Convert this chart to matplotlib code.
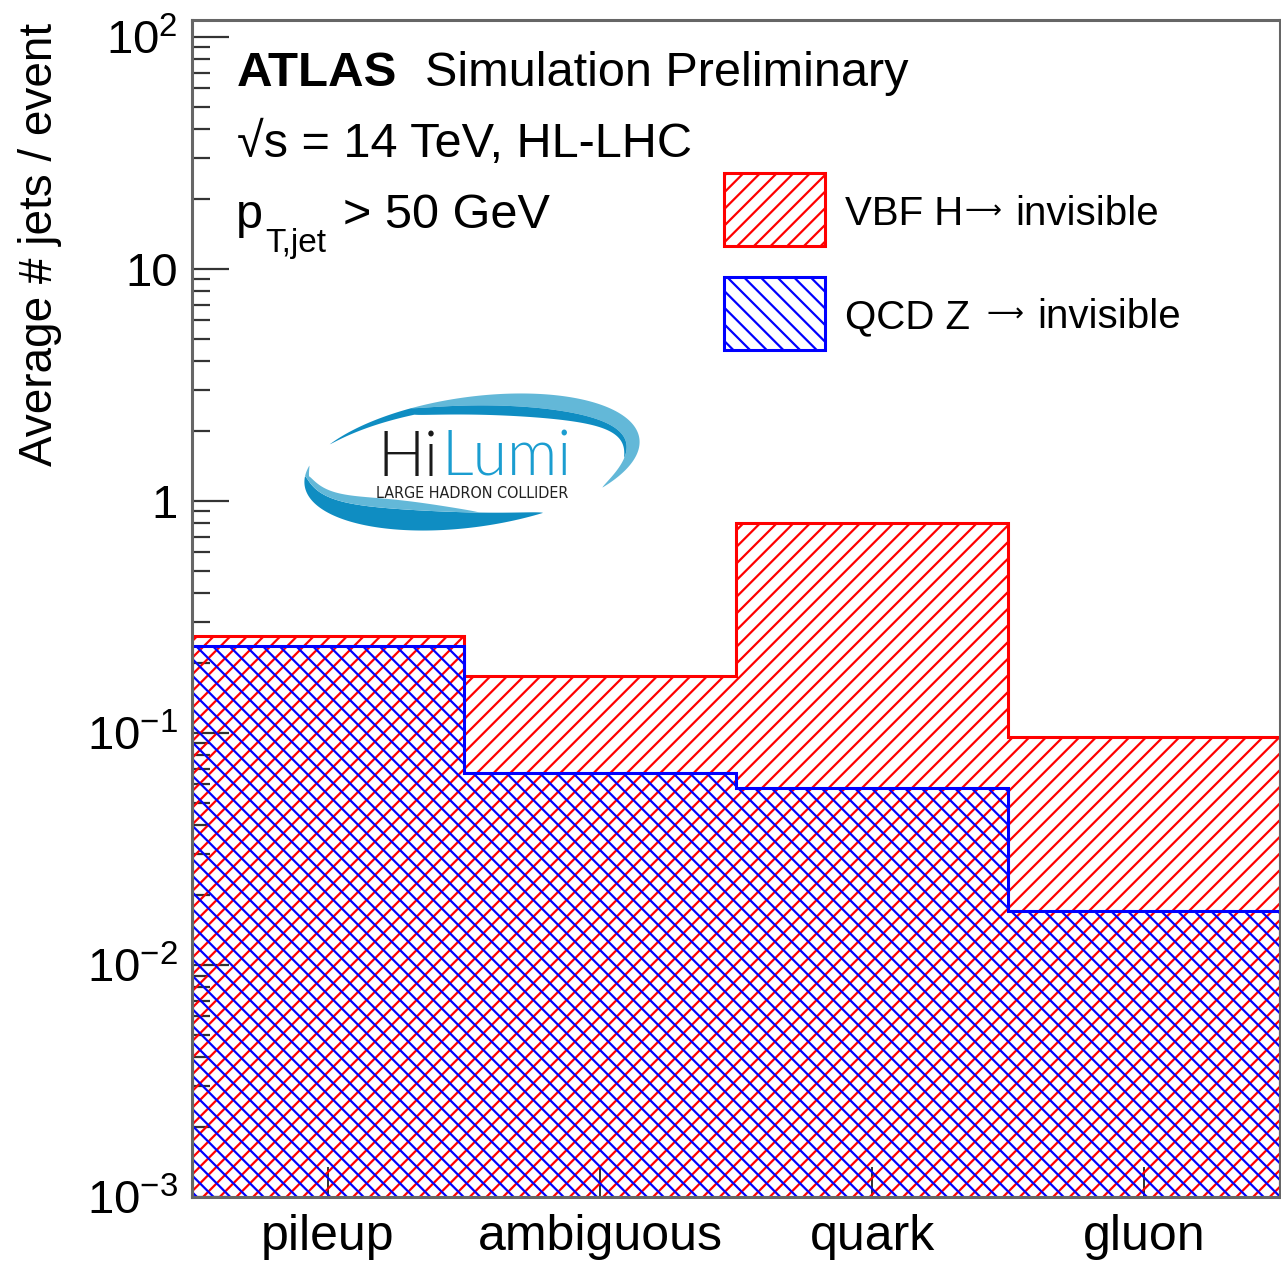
import numpy as np
import matplotlib
matplotlib.use("Agg")
import matplotlib.pyplot as plt
from matplotlib.transforms import Affine2D
from matplotlib.patches import Rectangle, Polygon
from matplotlib.ticker import FixedLocator, FixedFormatter, LogLocator, NullFormatter

# ---- data -------------------------------------------------------------
categories = ["pileup", "ambiguous", "quark", "gluon"]
vbf_h_inv = [0.262, 0.176, 0.80, 0.096]      # VBF H -> invisible
qcd_z_inv = [0.237, 0.0673, 0.058, 0.0171]   # QCD Z -> invisible
ytick_vals = [1e-3, 1e-2, 1e-1, 1, 10, 100]
ytick_labels = [r"$\mathregular{10^{-3}}$", r"$\mathregular{10^{-2}}$",
                r"$\mathregular{10^{-1}}$", "1", "10", r"$\mathregular{10^{2}}$"]
# legend entries: (process, decay product)
series_labels = [("VBF H", "invisible"), ("QCD Z", "invisible")]

# ---- style ------------------------------------------------------------
FONT = ["Liberation Sans", "DejaVu Sans"]
plt.rcParams["font.family"] = FONT
plt.rcParams["mathtext.fontset"] = "custom"
plt.rcParams["mathtext.rm"] = "Liberation Sans"
plt.rcParams["mathtext.it"] = "Liberation Sans:italic"
plt.rcParams["mathtext.bf"] = "Liberation Sans:bold"
plt.rcParams["hatch.linewidth"] = 1.6

W, H = 1281, 1266
fig = plt.figure(figsize=(W / 100, H / 100), dpi=100)
# pixel -> figure coordinates (origin top-left)
PX = Affine2D().scale(1 / W, -1 / H).translate(0, 1) + fig.transFigure

x0, x1, ytop, ybot = 192, 1280, 20, 1197
ax = fig.add_axes([x0 / W, 1 - ybot / H, (x1 - x0) / W, (ybot - ytop) / H])

edges = np.arange(len(categories) + 1)
ax.stairs(vbf_h_inv, edges, baseline=1e-5, fill=True, facecolor="none",
          edgecolor="#ff0000", hatch="//", linewidth=2.2, zorder=2)
ax.stairs(qcd_z_inv, edges, baseline=1e-5, fill=True, facecolor="none",
          edgecolor="#0000ff", hatch="\\\\", linewidth=2.2, zorder=3)

ax.set_yscale("log")
ax.set_xlim(0, len(categories))
ax.set_ylim(1e-3, 118)

ax.yaxis.set_major_locator(FixedLocator(ytick_vals))
ax.yaxis.set_major_formatter(FixedFormatter(ytick_labels))
ax.yaxis.set_minor_locator(LogLocator(base=10, subs=np.arange(2, 10), numticks=20))
ax.yaxis.set_minor_formatter(NullFormatter())
ax.set_xticks(edges[:-1] + 0.5)
ax.set_xticklabels(categories)

ax.tick_params(axis="y", which="major", direction="in", length=26.5, width=1.6,
               color="#333333", labelsize=34, pad=10, right=False)
ax.tick_params(axis="y", which="minor", direction="in", length=13, width=1.6,
               color="#333333", right=False)
ax.tick_params(axis="x", which="major", direction="in", length=21.5, width=1.3,
               color="#222222", labelsize=36, pad=12, top=False)
for sp in ax.spines.values():
    sp.set_color("#666666")
    sp.set_linewidth(2.2)
    sp.set_zorder(5)

# axis title
fig.text(40, 244, "Average # jets / event", transform=PX, rotation=90,
         ha="center", va="center", fontsize=33)

# ---- annotations ------------------------------------------------------
fig.text(237, 86, "ATLAS", transform=PX, fontsize=35.5, fontweight="bold",
         ha="left", va="baseline")
fig.text(425, 86, "Simulation Preliminary", transform=PX, fontsize=35,
         ha="left", va="baseline")
fig.text(237, 157, "\u221as = 14 TeV, HL-LHC", transform=PX, fontsize=35,
         ha="left", va="baseline")
fig.text(236, 228, "p", transform=PX, fontsize=35, ha="left", va="baseline")
fig.text(265, 252, "T,jet", transform=PX, fontsize=24, ha="left", va="baseline")
fig.text(343, 228, "> 50 GeV", transform=PX, fontsize=35, ha="left", va="baseline")

# ---- legend -----------------------------------------------------------
legend_rows = [(173, "#ff0000", "//", 225, 965, 1015),
               (277, "#0000ff", "\\\\", 328, 987, 1037)]
for (top, col, hatch, base, xarrow, xinv), (proc, prod) in zip(legend_rows,
                                                             series_labels):
    fig.add_artist(Rectangle((724, top), 101, 73, transform=PX, fill=False,
                             edgecolor=col, hatch=hatch, linewidth=2.2))
    fig.text(845, base, proc, transform=PX, fontsize=29, ha="left",
             va="baseline")
    fig.text(xarrow, base - 6, "\u27f6", transform=PX, fontsize=18.5,
             family=["DejaVu Sans"], ha="left", va="baseline")
    fig.text(xinv, base, prod, transform=PX, fontsize=29, ha="left",
             va="baseline")

# ---- HiLumi logo ------------------------------------------------------
LC = np.array([472.0, 462.0])
ROT = np.deg2rad(8.0)
A_AX, B_AX = 169.0, 65.0


def band_width(t, t0, t1, wmax):
    s = np.clip((t - t0) / (t1 - t0), 0, 1)
    return wmax * np.sin(np.pi * s) ** 0.75


def to_px(x, y):
    xr = x * np.cos(ROT) - y * np.sin(ROT)
    yr = x * np.sin(ROT) + y * np.cos(ROT)
    return np.column_stack([LC[0] + xr, LC[1] - yr])


def swoosh(t0, t1, wmax, color, under=None):
    t = np.deg2rad(np.linspace(t0, t1, 240))
    off = np.zeros_like(t)
    if under is not None:
        u0, u1, uw = under
        off = band_width(t, np.deg2rad(u0), np.deg2rad(u1), uw)
    w = band_width(t, t[0], t[-1], wmax)
    outer = to_px((A_AX - off) * np.cos(t), (B_AX - off) * np.sin(t))
    inner = to_px((A_AX - off - w) * np.cos(t), (B_AX - off - w) * np.sin(t))
    pts = np.vstack([outer, inner[::-1]])
    fig.add_artist(Polygon(pts, closed=True, transform=PX, facecolor=color,
                           edgecolor="none"))


DARK, LIGHT = "#0f8dc2", "#63b8d8"
swoosh(172, 292, 22, DARK)
swoosh(163, 270, 11, LIGHT, under=(172, 292, 22))
swoosh(-42, 108, 17, LIGHT)
swoosh(-18, 145, 10, DARK, under=(-42, 108, 17))

fig.text(438, 476, "Hi", transform=PX, fontsize=45, fontweight=300,
         family=["Lato", "DejaVu Sans"], color="#1a1a1a", ha="right",
         va="baseline")
fig.text(441, 476, "Lumi", transform=PX, fontsize=45, fontweight=300,
         family=["Lato", "DejaVu Sans"], color="#1b9dd0", ha="left",
         va="baseline")
fig.text(472, 498, "LARGE HADRON COLLIDER", transform=PX, fontsize=11.5,
         family=["DejaVu Sans"], fontstretch="condensed", color="#222222",
         ha="center", va="baseline")

fig.savefig("out.png", dpi=100)
